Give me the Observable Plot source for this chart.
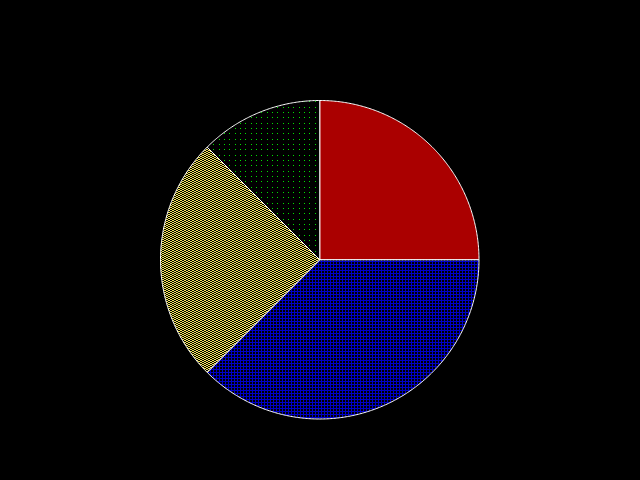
<!DOCTYPE html>
<html>
<head>
<meta charset="utf-8">
<script src="https://cdn.jsdelivr.net/npm/d3@7"></script>
<script src="https://cdn.jsdelivr.net/npm/@observablehq/plot@0.6"></script>
<style>
  html, body { margin: 0; padding: 0; background: #000; }
  #chart svg { display: block; }
</style>
</head>
<body>
<div id="chart"></div>
<script>
// Data
const categories = ["A", "B", "C", "D"];
const values = [25, 37.5, 25, 12.5];
// Styles (pattern fills per slice)
const fills = ["#aa0000", "url(#pBlue)", "url(#pYellow)", "url(#pGreen)"];

const arcs = d3.pie().sort(null).value(d => d)(values);

// Build slice outlines (center -> arc -> center)
const rows = [];
arcs.forEach((a, i) => {
  const cat = categories[i];
  rows.push({cat, x: 0, y: 0});
  const n = Math.max(2, Math.ceil((a.endAngle - a.startAngle) / (Math.PI / 360)));
  for (let k = 0; k <= n; k++) {
    const t = a.startAngle + (a.endAngle - a.startAngle) * k / n;
    rows.push({cat, x: Math.sin(t), y: -Math.cos(t)});
  }
  rows.push({cat, x: 0, y: 0});
});

const marks = categories.map((c, i) =>
  Plot.line(rows.filter(r => r.cat === c), {
    x: "x", y: "y",
    fill: fills[i],
    stroke: "white",
    strokeWidth: 1,
    curve: "linear"
  })
);

const svg = Plot.plot({
  width: 640,
  height: 480,
  style: {background: "#000"},
  x: {domain: [-1, 1], range: [160, 478.5], axis: null},
  y: {domain: [-1, 1], range: [100, 418.5], axis: null},
  marks
});

// Pattern definitions (offset -0.5 to cancel Plot's half-pixel translate)
const ns = "http://www.w3.org/2000/svg";
const defs = document.createElementNS(ns, "defs");
const pt = `patternUnits="userSpaceOnUse" patternTransform="translate(-0.5,-0.5)"`;
defs.innerHTML = `
  <pattern id="pBlue" ${pt} width="3" height="3">
    <rect width="3" height="3" fill="#000"/>
    <rect x="0" y="0" width="3" height="1" fill="#0000c8"/>
    <rect x="0" y="0" width="1" height="3" fill="#0000c8"/>
  </pattern>
  <pattern id="pYellow" ${pt} width="4" height="2">
    <rect width="4" height="2" fill="#000"/>
    <rect x="0" y="0" width="2" height="1" fill="#f5e85a"/>
    <rect x="2" y="1" width="2" height="1" fill="#f5e85a"/>
  </pattern>
  <pattern id="pGreen" ${pt} width="16" height="16">
    <rect width="16" height="16" fill="#000"/>
    ${[0,5,11].map(x => [0,5,11].map(y => `<rect x="${x}" y="${y}" width="1" height="1" fill="#00e000"/>`).join("")).join("")}
  </pattern>`;
svg.insertBefore(defs, svg.firstChild);

document.getElementById("chart").appendChild(svg);
</script>
</body>
</html>
